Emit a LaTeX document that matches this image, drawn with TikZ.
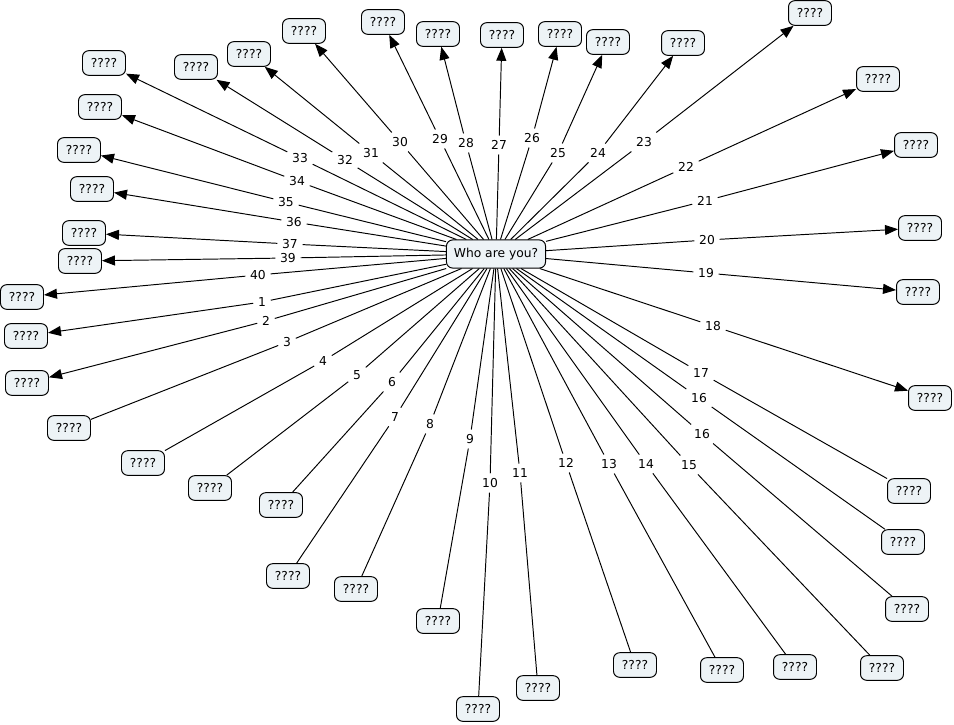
\documentclass[tikz,border=0pt]{standalone}
\usepackage{fontspec}
\setmainfont{DejaVu Sans}
\usepackage{tikz}
\usetikzlibrary{arrows.meta}
\usepackage{xcolor}
\definecolor{cmapfill}{RGB}{237,243,246}
\begin{document}
\begin{tikzpicture}[x=0.02cm,y=-0.02cm,>={Triangle[length=2.6mm,width=2mm]},
  font=\fontsize{7}{8}\selectfont,line width=0.55pt,
  concept/.style={draw,fill=cmapfill,rounded corners=3.5pt,inner xsep=4.8pt,inner ysep=1pt,minimum height=14pt},
  topic/.style={concept,inner xsep=4.2pt,minimum height=16pt},
  phrase/.style={inner sep=2.5pt}]
\useasboundingbox (0,0) rectangle (954,724);
\node[topic] (who) at (496,254) {Who are you?};
\node[concept] (c1) at (26,336) {????};
\node[phrase] (l1) at (262,302) {1};
\draw (who) -- (l1); \draw[->] (l1) -- (c1);
\node[concept] (c2) at (27,383) {????};
\node[phrase] (l2) at (266,321) {2};
\draw (who) -- (l2); \draw[->] (l2) -- (c2);
\node[concept] (c3) at (69,428) {????};
\node[phrase] (l3) at (287,342) {3};
\draw (who) -- (l3); \draw (l3) -- (c3);
\node[concept] (c4) at (143,463) {????};
\node[phrase] (l4) at (323,361) {4};
\draw (who) -- (l4); \draw (l4) -- (c4);
\node[concept] (c5) at (210,488) {????};
\node[phrase] (l5) at (357,375) {5};
\draw (who) -- (l5); \draw (l5) -- (c5);
\node[concept] (c6) at (281,505) {????};
\node[phrase] (l6) at (392,382) {6};
\draw (who) -- (l6); \draw (l6) -- (c6);
\node[concept] (c7) at (288,576) {????};
\node[phrase] (l7) at (395,417) {7};
\draw (who) -- (l7); \draw (l7) -- (c7);
\node[concept] (c8) at (356,589) {????};
\node[phrase] (l8) at (430,424) {8};
\draw (who) -- (l8); \draw (l8) -- (c8);
\node[concept] (c9) at (438,621) {????};
\node[phrase] (l9) at (470,439) {9};
\draw (who) -- (l9); \draw (l9) -- (c9);
\node[concept] (c10) at (478,709) {????};
\node[phrase] (l10) at (490,483) {10};
\draw (who) -- (l10); \draw (l10) -- (c10);
\node[concept] (c11) at (538,688) {????};
\node[phrase] (l11) at (520,473) {11};
\draw (who) -- (l11); \draw (l11) -- (c11);
\node[concept] (c12) at (635,665) {????};
\node[phrase] (l12) at (566,463) {12};
\draw (who) -- (l12); \draw (l12) -- (c12);
\node[concept] (c13) at (722,670) {????};
\node[phrase] (l13) at (609,464) {13};
\draw (who) -- (l13); \draw (l13) -- (c13);
\node[concept] (c14) at (795,667) {????};
\node[phrase] (l14) at (646,464) {14};
\draw (who) -- (l14); \draw (l14) -- (c14);
\node[concept] (c15) at (882,668) {????};
\node[phrase] (l15) at (689,465) {15};
\draw (who) -- (l15); \draw (l15) -- (c15);
\node[concept] (c16a) at (907,609) {????};
\node[phrase] (l16a) at (702,434) {16};
\draw (who) -- (l16a); \draw (l16a) -- (c16a);
\node[concept] (c16b) at (903,542) {????};
\node[phrase] (l16b) at (699,398) {16};
\draw (who) -- (l16b); \draw (l16b) -- (c16b);
\node[concept] (c17) at (909,491) {????};
\node[phrase] (l17) at (701,373) {17};
\draw (who) -- (l17); \draw (l17) -- (c17);
\node[concept] (c18) at (930,398) {????};
\node[phrase] (l18) at (713,326) {18};
\draw (who) -- (l18); \draw[->] (l18) -- (c18);
\node[concept] (c19) at (918,292) {????};
\node[phrase] (l19) at (706,273) {19};
\draw (who) -- (l19); \draw[->] (l19) -- (c19);
\node[concept] (c20) at (920,228) {????};
\node[phrase] (l20) at (707,240) {20};
\draw (who) -- (l20); \draw[->] (l20) -- (c20);
\node[concept] (c21) at (916,145) {????};
\node[phrase] (l21) at (705,201) {21};
\draw (who) -- (l21); \draw[->] (l21) -- (c21);
\node[concept] (c22) at (878,79) {????};
\node[phrase] (l22) at (686,167) {22};
\draw (who) -- (l22); \draw[->] (l22) -- (c22);
\node[concept] (c23) at (810,13) {????};
\node[phrase] (l23) at (644,142) {23};
\draw (who) -- (l23); \draw[->] (l23) -- (c23);
\node[concept] (c24) at (683,43) {????};
\node[phrase] (l24) at (598,153) {24};
\draw (who) -- (l24); \draw[->] (l24) -- (c24);
\node[concept] (c25) at (608,42) {????};
\node[phrase] (l25) at (558,153) {25};
\draw (who) -- (l25); \draw[->] (l25) -- (c25);
\node[concept] (c26) at (560,34) {????};
\node[phrase] (l26) at (532,138) {26};
\draw (who) -- (l26); \draw[->] (l26) -- (c26);
\node[concept] (c27) at (502,35) {????};
\node[phrase] (l27) at (499,145) {27};
\draw (who) -- (l27); \draw[->] (l27) -- (c27);
\node[concept] (c28) at (438,34) {????};
\node[phrase] (l28) at (466,143) {28};
\draw (who) -- (l28); \draw[->] (l28) -- (c28);
\node[concept] (c29) at (383,22) {????};
\node[phrase] (l29) at (440,139) {29};
\draw (who) -- (l29); \draw[->] (l29) -- (c29);
\node[concept] (c30) at (304,31) {????};
\node[phrase] (l30) at (400,142) {30};
\draw (who) -- (l30); \draw[->] (l30) -- (c30);
\node[concept] (c31) at (249,54) {????};
\node[phrase] (l31) at (371,153) {31};
\draw (who) -- (l31); \draw[->] (l31) -- (c31);
\node[concept] (c32) at (196,67) {????};
\node[phrase] (l32) at (345,160) {32};
\draw (who) -- (l32); \draw[->] (l32) -- (c32);
\node[concept] (c33) at (104,63) {????};
\node[phrase] (l33) at (300,158) {33};
\draw (who) -- (l33); \draw[->] (l33) -- (c33);
\node[concept] (c34) at (100,107) {????};
\node[phrase] (l34) at (297,181) {34};
\draw (who) -- (l34); \draw[->] (l34) -- (c34);
\node[concept] (c35) at (79,150) {????};
\node[phrase] (l35) at (286,202) {35};
\draw (who) -- (l35); \draw[->] (l35) -- (c35);
\node[concept] (c36) at (92,189) {????};
\node[phrase] (l36) at (294,222) {36};
\draw (who) -- (l36); \draw[->] (l36) -- (c36);
\node[concept] (c37) at (84,233) {????};
\node[phrase] (l37) at (290,244) {37};
\draw (who) -- (l37); \draw[->] (l37) -- (c37);
\node[concept] (c39) at (80,261) {????};
\node[phrase] (l39) at (288,258) {39};
\draw (who) -- (l39); \draw[->] (l39) -- (c39);
\node[concept] (c40) at (22,297) {????};
\node[phrase] (l40) at (258,275) {40};
\draw (who) -- (l40); \draw[->] (l40) -- (c40);
\end{tikzpicture}
\end{document}
